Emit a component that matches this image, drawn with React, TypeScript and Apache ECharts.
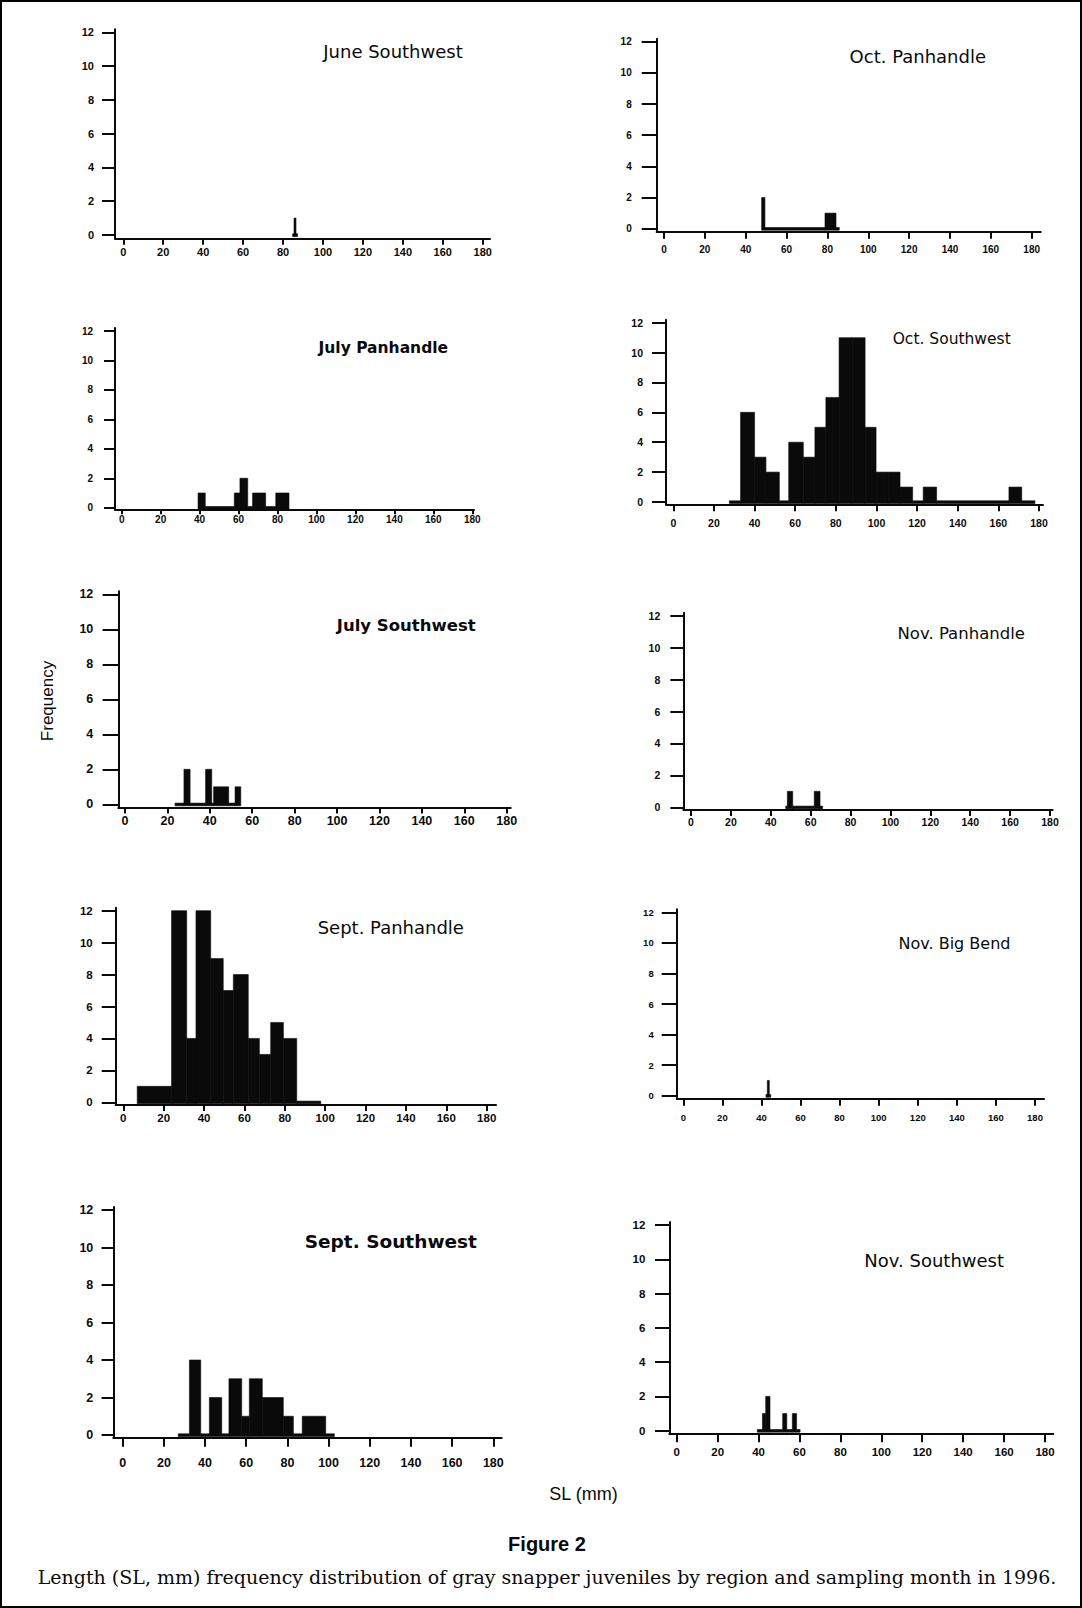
import React, { useEffect, useRef } from 'react';
import * as echarts from 'echarts';

// ---------- data ----------
const xTicks = [0, 20, 40, 60, 80, 100, 120, 140, 160, 180];
const yTicks = [0, 2, 4, 6, 8, 10, 12];

const panelTitles = [
  'June Southwest',
  'Oct. Panhandle',
  'July Panhandle',
  'Oct. Southwest',
  'July Southwest',
  'Nov. Panhandle',
  'Sept. Panhandle',
  'Nov. Big Bend',
  'Sept. Southwest',
  'Nov. Southwest',
];

// bins: [start SL (mm), end SL (mm), frequency]
const juneSouthwest = [[84.8, 85.5, 0], [85.5, 86.5, 1], [86.5, 87.2, 0]];
const octPanhandle = [[47.8, 49.4, 2], [49.4, 78.8, 0], [78.8, 84.2, 1], [84.2, 85.8, 0]];
const julyPanhandle = [
  [39.2, 42.9, 1], [42.9, 57.8, 0], [57.8, 60.7, 1], [60.7, 64.7, 2],
  [64.7, 67.2, 0], [67.2, 73.9, 1], [73.9, 79.1, 0], [79.1, 85.9, 1],
];
const octSouthwest = [
  [27.6, 33.1, 0], [33.1, 40.0, 6], [40.0, 45.6, 3], [45.6, 52.2, 2], [52.2, 56.8, 0],
  [56.8, 64.0, 4], [64.0, 69.7, 3], [69.7, 75.1, 5], [75.1, 81.6, 7], [81.6, 88.0, 11],
  [88.0, 94.4, 11], [94.4, 99.8, 5], [99.8, 105.7, 2], [105.7, 111.6, 2], [111.6, 117.8, 1],
  [117.8, 123.0, 0], [123.0, 129.6, 1], [129.6, 165.2, 0], [165.2, 171.5, 1], [171.5, 178.0, 0],
];
const julySouthwest = [
  [23.6, 27.8, 0], [27.8, 30.7, 2], [30.7, 38.0, 0], [38.0, 40.9, 2],
  [40.9, 41.8, 0], [41.8, 48.9, 1], [48.9, 51.9, 0], [51.9, 54.6, 1],
];
const novPanhandle = [[47.5, 48.3, 0], [48.3, 51.0, 1], [51.0, 61.8, 0], [61.8, 64.7, 1], [64.7, 66.0, 0]];
const septPanhandle = [
  [6.9, 23.9, 1], [23.9, 31.4, 12], [31.4, 36.0, 4], [36.0, 43.3, 12], [43.3, 49.5, 9],
  [49.5, 54.5, 7], [54.5, 61.9, 8], [61.9, 67.4, 4], [67.4, 73.0, 3], [73.0, 79.3, 5],
  [79.3, 85.9, 4], [85.9, 97.8, 0],
];
const novBigBend = [[42.3, 43.0, 0], [43.0, 44.0, 1], [44.0, 44.7, 0]];
const septSouthwest = [
  [27.0, 32.4, 0], [32.4, 37.9, 4], [37.9, 42.1, 0], [42.1, 48.1, 2], [48.1, 51.6, 0],
  [51.6, 57.8, 3], [57.8, 61.5, 1], [61.5, 67.8, 3], [67.8, 78.0, 2], [78.0, 82.9, 1],
  [82.9, 87.2, 0], [87.2, 98.6, 1], [98.6, 102.8, 0],
];
const novSouthwest = [
  [39.4, 41.9, 0], [41.9, 43.5, 1], [43.5, 45.6, 2], [45.6, 51.8, 0],
  [51.8, 53.8, 1], [53.8, 56.5, 0], [56.5, 58.6, 1], [58.6, 60.3, 0],
];

const panelBins = [
  juneSouthwest, octPanhandle, julyPanhandle, octSouthwest, julySouthwest,
  novPanhandle, septPanhandle, novBigBend, septSouthwest, novSouthwest,
];

const yAxisName = 'Frequency';
const xAxisName = 'SL (mm)';
const figureLabel = 'Figure 2';
const caption =
  'Length (SL, mm) frequency distribution of gray snapper juveniles by region and sampling month in 1996.';

// ---------- layout (pixels) ----------
const layouts = [
  { yAx: 115, x0: 123.3, x180: 482.7, end: 490, y12: 32.3, y0: 235, xAxY: 238.3, yTick: 13, yMargin: 21, xTick: 6.5, xMargin: 8, fs: 11, tx: 393, ty: 51.7, tfs: 18, tfw: 'normal' },
  { yAx: 656.7, x0: 664, x180: 1031.7, end: 1040.7, y12: 41.7, y0: 228.7, xAxY: 231.7, yTick: 15, yMargin: 25, xTick: 7, xMargin: 13, fs: 10, tx: 917.8, ty: 56.7, tfs: 18, tfw: 'normal' },
  { yAx: 115, x0: 121.7, x180: 472.3, end: 474, y12: 331, y0: 507.7, xAxY: 509.3, yTick: 11, yMargin: 22, xTick: 5, xMargin: 5, fs: 10, tx: 383.3, ty: 348.3, tfs: 15.5, tfw: 'bold' },
  { yAx: 666, x0: 673.3, x180: 1039, end: 1043, y12: 322.7, y0: 502, xAxY: 504.3, yTick: 14, yMargin: 23, xTick: 7, xMargin: 13, fs: 10.5, tx: 951.7, ty: 339, tfs: 15.5, tfw: 'normal' },
  { yAx: 118.3, x0: 125, x180: 506.7, end: 510.7, y12: 594.3, y0: 804.3, xAxY: 807.7, yTick: 15.7, yMargin: 25, xTick: 5.7, xMargin: 7, fs: 12.5, tx: 406.2, ty: 625, tfs: 16.5, tfw: 'bold' },
  { yAx: 683.3, x0: 691, x180: 1050, end: 1052.7, y12: 615.7, y0: 807.3, xAxY: 810, yTick: 13, yMargin: 23, xTick: 6, xMargin: 6, fs: 10.5, tx: 961.2, ty: 633.3, tfs: 16.5, tfw: 'normal' },
  { yAx: 115.7, x0: 123.3, x180: 486.7, end: 496, y12: 910.7, y0: 1102.3, xAxY: 1105, yTick: 14, yMargin: 23, xTick: 6, xMargin: 7, fs: 11.5, tx: 390.8, ty: 927.7, tfs: 18, tfw: 'normal' },
  { yAx: 676.7, x0: 683.3, x180: 1035, end: 1044, y12: 912.3, y0: 1095.7, xAxY: 1099, yTick: 15, yMargin: 23, xTick: 6.7, xMargin: 13, fs: 9.5, tx: 954.5, ty: 943.3, tfs: 16, tfw: 'normal' },
  { yAx: 113.3, x0: 122.7, x180: 493.3, end: 501.7, y12: 1210, y0: 1435, xAxY: 1437.7, yTick: 11.7, yMargin: 20, xTick: 9, xMargin: 19, fs: 12.5, tx: 390.8, ty: 1241.7, tfs: 18.5, tfw: 'bold' },
  { yAx: 669.3, x0: 676.7, x180: 1045, end: 1053.3, y12: 1225, y0: 1430.7, xAxY: 1433.3, yTick: 14.3, yMargin: 24, xTick: 9, xMargin: 13, fs: 11.5, tx: 934.2, ty: 1260, tfs: 18, tfw: 'normal' },
];

const INK = '#0a0a0a';
const SANS = "'Liberation Sans', Arial, sans-serif";
const TITLE_SANS = "'DejaVu Sans', 'Liberation Sans', sans-serif";

function renderBins(params: any, api: any) {
  const a = api.coord([api.value(0), 0]);
  const b = api.coord([api.value(1), api.value(2)]);
  const c = api.value(2);
  const top = c > 0 ? b[1] : a[1] - 1.2;
  const bottom = a[1] + 1.5;
  return {
    type: 'rect',
    shape: { x: a[0], y: top, width: Math.max(b[0] - a[0], 1.5), height: bottom - top },
    style: { fill: INK, stroke: INK, lineWidth: 0.6 },
  };
}

function buildOption() {
  const grid: any[] = [];
  const xAxis: any[] = [];
  const yAxis: any[] = [];
  const series: any[] = [];
  const graphic: any[] = [];

  layouts.forEach((L, i) => {
    const sx = (L.x180 - L.x0) / 180;
    const sy = (L.y0 - L.y12) / 12;
    const xmin = -(L.x0 - L.yAx) / sx;
    const xmax = 180 + (L.end - L.x180) / sx;
    const ymin = -(L.xAxY - L.y0) / sy;
    const topPx = L.y12 - 3;
    const ymax = 12 + 3 / sy;

    grid.push({
      left: L.yAx,
      top: topPx,
      width: L.end - L.yAx,
      height: L.xAxY - topPx,
      containLabel: false,
      outerBoundsMode: 'none',
    });
    xAxis.push({
      type: 'value',
      gridIndex: i,
      min: xmin,
      max: xmax,
      axisLine: { show: true, onZero: false, lineStyle: { color: INK, width: 2 } },
      axisTick: { show: true, customValues: xTicks, length: L.xTick, lineStyle: { color: INK, width: 2 } },
      axisLabel: {
        show: true,
        customValues: xTicks,
        margin: L.xMargin,
        color: INK,
        fontFamily: SANS,
        fontWeight: 'bold',
        fontSize: L.fs,
      },
      splitLine: { show: false },
    });
    yAxis.push({
      type: 'value',
      gridIndex: i,
      min: ymin,
      max: ymax,
      axisLine: { show: true, onZero: false, lineStyle: { color: INK, width: 2 } },
      axisTick: { show: true, customValues: yTicks, length: L.yTick, lineStyle: { color: INK, width: 2 } },
      axisLabel: {
        show: true,
        customValues: yTicks,
        margin: L.yMargin,
        color: INK,
        fontFamily: SANS,
        fontWeight: 'bold',
        fontSize: L.fs,
      },
      splitLine: { show: false },
    });
    series.push({
      type: 'custom',
      xAxisIndex: i,
      yAxisIndex: i,
      data: panelBins[i],
      encode: { x: [0, 1], y: 2 },
      renderItem: renderBins,
      clip: false,
    });
    graphic.push({
      type: 'text',
      x: L.tx,
      y: L.ty,
      style: {
        text: panelTitles[i],
        fill: INK,
        fontFamily: TITLE_SANS,
        fontSize: L.tfs,
        fontWeight: L.tfw,
        textAlign: 'center',
        textVerticalAlign: 'middle',
      },
    });
  });

  graphic.push(
    {
      type: 'rect',
      shape: { x: 1, y: 1, width: 1080, height: 1606 },
      style: { fill: 'none', stroke: '#000', lineWidth: 2 },
      silent: true,
    },
    {
      type: 'text',
      x: 47,
      y: 701,
      rotation: Math.PI / 2,
      style: {
        text: yAxisName,
        fill: INK,
        fontFamily: SANS,
        fontSize: 17,
        textAlign: 'center',
        textVerticalAlign: 'middle',
      },
    },
    {
      type: 'text',
      x: 583.5,
      y: 1494,
      style: {
        text: xAxisName,
        fill: INK,
        fontFamily: SANS,
        fontSize: 18,
        textAlign: 'center',
        textVerticalAlign: 'middle',
      },
    },
    {
      type: 'text',
      x: 547,
      y: 1543.5,
      style: {
        text: figureLabel,
        fill: INK,
        fontFamily: SANS,
        fontWeight: 'bold',
        fontSize: 20,
        textAlign: 'center',
        textVerticalAlign: 'middle',
      },
    },
    {
      type: 'text',
      x: 547,
      y: 1576.5,
      style: {
        text: caption,
        fill: INK,
        fontFamily: "'DejaVu Serif', 'Liberation Serif', serif",
        fontSize: 19,
        textAlign: 'center',
        textVerticalAlign: 'middle',
      },
    }
  );

  return {
    animation: false,
    backgroundColor: '#ffffff',
    grid,
    xAxis,
    yAxis,
    series,
    graphic,
  };
}

export default function App() {
  const ref = useRef<HTMLDivElement>(null);
  useEffect(() => {
    if (!ref.current) return;
    const chart = echarts.init(ref.current, undefined, { renderer: 'svg' });
    chart.setOption(buildOption() as any);
    return () => chart.dispose();
  }, []);
  return (
    <div
      ref={ref}
      style={{ position: 'absolute', left: 0, top: 0, width: 1082, height: 1608, background: '#fff' }}
    />
  );
}
